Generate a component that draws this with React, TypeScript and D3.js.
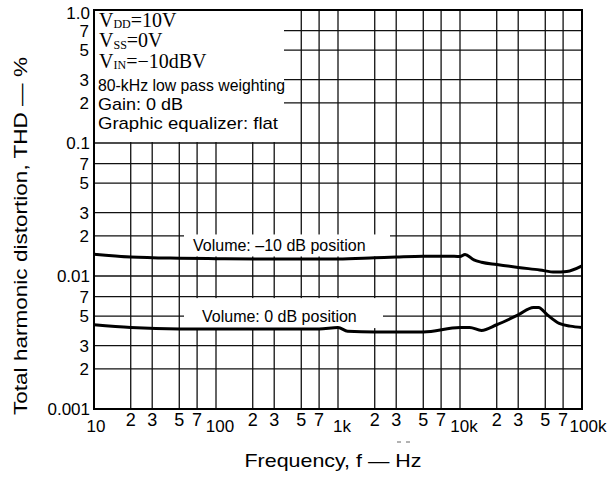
import React from "react";
import * as d3 from "d3";

const width = 609;
const height = 479;
const margin = { top: 10, right: 27, bottom: 70, left: 94 };

// axis ticks
const decades = [10, 100, 1000, 10000, 100000];
const decadeLabels = ["10", "100", "1k", "10k", "100k"];
const minorSteps = [2, 3, 5, 7];
const yDecades = [0.001, 0.01, 0.1, 1];
const yDecadeLabels = ["0.001", "0.01", "0.1", "1.0"];

// Volume: -10 dB position
const m10Freq = [10, 20, 50, 100, 300, 1000, 2000, 3000, 5000, 8000, 10000, 11000, 13000, 15000, 20000, 30000, 45000, 60000, 75000, 100000];
const m10Thd = [0.0146, 0.0139, 0.0136, 0.0135, 0.0134, 0.0134, 0.0137, 0.0139, 0.0141, 0.0141, 0.014, 0.0145, 0.0132, 0.0127, 0.0122, 0.0116, 0.0111, 0.0107, 0.0108, 0.0119];

// Volume: 0 dB position
const zeroFreq = [10, 20, 50, 100, 300, 700, 1000, 1200, 2000, 5000, 10000, 12000, 15000, 20000, 30000, 40000, 44000, 52000, 65000, 80000, 100000];
const zeroThd = [0.0043, 0.0041, 0.004, 0.004, 0.004, 0.004, 0.0041, 0.00385, 0.0038, 0.0038, 0.0041, 0.0041, 0.0039, 0.0043, 0.0051, 0.0058, 0.0058, 0.0051, 0.0044, 0.0042, 0.0041];

// supply / input conditions: [subscript, rest]
const supplies = [
  ["DD", "=10V"],
  ["SS", "=0V"],
  ["IN", "=−10dBV"],
];
const conditions = ["80-kHz low pass weighting", "Gain: 0 dB", "Graphic equalizer: flat"];
const conditionWidths = [187, 85, 180];

const sans = "'Liberation Sans', Arial, Helvetica, sans-serif";
const serif = "'Liberation Serif', 'Times New Roman', serif";

const mantissa = (v: number) => Math.round(v / Math.pow(10, Math.floor(Math.log10(v) + 1e-9)));

export default function App() {
  const x = d3
    .scaleLog()
    .domain([10, 100000])
    .range([margin.left, width - margin.right]);
  const y = d3
    .scaleLog()
    .domain([0.001, 1])
    .range([height - margin.bottom, margin.top]);

  const xMinor: number[] = [];
  decades.slice(0, -1).forEach(d => minorSteps.forEach(m => xMinor.push(d * m)));
  const yMinor: number[] = [];
  yDecades.slice(0, -1).forEach(d => minorSteps.forEach(m => yMinor.push(d * m)));

  const line = d3
    .line<[number, number]>()
    .x(d => x(d[0]))
    .y(d => y(d[1]))
    .curve(d3.curveMonotoneX);

  const m10Path = line(m10Freq.map((f, i) => [f, m10Thd[i]]));
  const zeroPath = line(zeroFreq.map((f, i) => [f, zeroThd[i]]));

  const x0 = x.range()[0], x1 = x.range()[1];
  const y0 = y.range()[0], y1 = y.range()[1];
  const grid = "#111";

  return (
    <svg width={width} height={height} style={{ position: "absolute", left: 0, top: 0, background: "#fff" }}>
      {/* grid */}
      <g stroke={grid} strokeWidth={1.3}>
        {[...decades, ...xMinor].map(f => (
          <line key={"vx" + f} x1={x(f)} x2={x(f)} y1={y0} y2={y1} />
        ))}
        {[...yDecades, ...yMinor].map(v => (
          <line key={"hy" + v} x1={x0} x2={x1} y1={y(v)} y2={y(v)} />
        ))}
      </g>

      {/* white boxes behind the notes */}
      <rect x={x0 + 1} y={y1 + 1} width={189} height={y(0.1) - y1 - 2} fill="#fff" />
      <rect x={184} y={y(0.02) - 1.5} width={206} height={22} fill="#fff" />
      <rect x={184} y={y(0.007) + 1.5} width={199} height={30} fill="#fff" />

      {/* frame */}
      <rect x={x0} y={y1} width={x1 - x0} height={y0 - y1} fill="none" stroke="#000" strokeWidth={2} />

      {/* curves */}
      <path d={m10Path || ""} fill="none" stroke="#000" strokeWidth={3} />
      <path d={zeroPath || ""} fill="none" stroke="#000" strokeWidth={3} />

      {/* curve labels */}
      <g fontFamily={sans} fontSize={16} fill="#000">
        <text x={193} y={251}>Volume: –10 dB position</text>
        <text x={202} y={322}>Volume: 0 dB position</text>
      </g>

      {/* conditions */}
      <g fontFamily={serif} fontSize={20} fill="#000">
        {supplies.map((s, i) => (
          <text key={s[0]} x={99} y={26.5 + i * 20.5}>
            V<tspan fontSize={12} dy={1.5}>{s[0]}</tspan>
            <tspan dy={-1.5}>{s[1]}</tspan>
          </text>
        ))}
      </g>
      <g fontFamily={sans} fontSize={17} fill="#000">
        {conditions.map((c, i) => (
          <text key={c} x={98} y={91 + i * 19} textLength={conditionWidths[i]} lengthAdjust="spacingAndGlyphs">
            {c}
          </text>
        ))}
      </g>

      {/* y tick labels */}
      <g fontFamily={sans} fontSize={17} fill="#000" textAnchor="end">
        {yDecades.map((v, i) => (
          <text key={"yl" + v} x={90} y={y(v) + (i === yDecades.length - 1 ? 9 : 6)}>
            {yDecadeLabels[i]}
          </text>
        ))}
        {yMinor.map(v => (
          <text key={"ym" + v} x={89} y={y(v) + 6}>
            {mantissa(v)}
          </text>
        ))}
      </g>

      {/* x tick labels */}
      <g fontFamily={sans} fill="#000" textAnchor="middle">
        {decades.map((f, i) => (
          <text key={"xl" + f} x={x(f) + (i === 0 ? 2 : i === decades.length - 1 ? 6 : 4)} y={432} fontSize={17}>
            {decadeLabels[i]}
          </text>
        ))}
        {xMinor.map(f => (
          <text key={"xm" + f} x={x(f)} y={426} fontSize={18}>
            {mantissa(f)}
          </text>
        ))}
      </g>

      {/* axis titles */}
      <g stroke="#666" strokeWidth={1}>
        <line x1={397} x2={401} y1={442} y2={442} />
        <line x1={406} x2={410} y1={442} y2={442} />
      </g>
      <text
        x={333}
        y={467}
        fontFamily={sans}
        fontSize={19}
        textAnchor="middle"
        textLength={177}
        lengthAdjust="spacingAndGlyphs"
      >
        Frequency, f — Hz
      </text>
      <text
        transform="translate(27,236) rotate(-90)"
        fontFamily={sans}
        fontSize={19}
        textAnchor="middle"
        textLength={358}
        lengthAdjust="spacingAndGlyphs"
      >
        Total harmonic distortion, THD — %
      </text>
    </svg>
  );
}
